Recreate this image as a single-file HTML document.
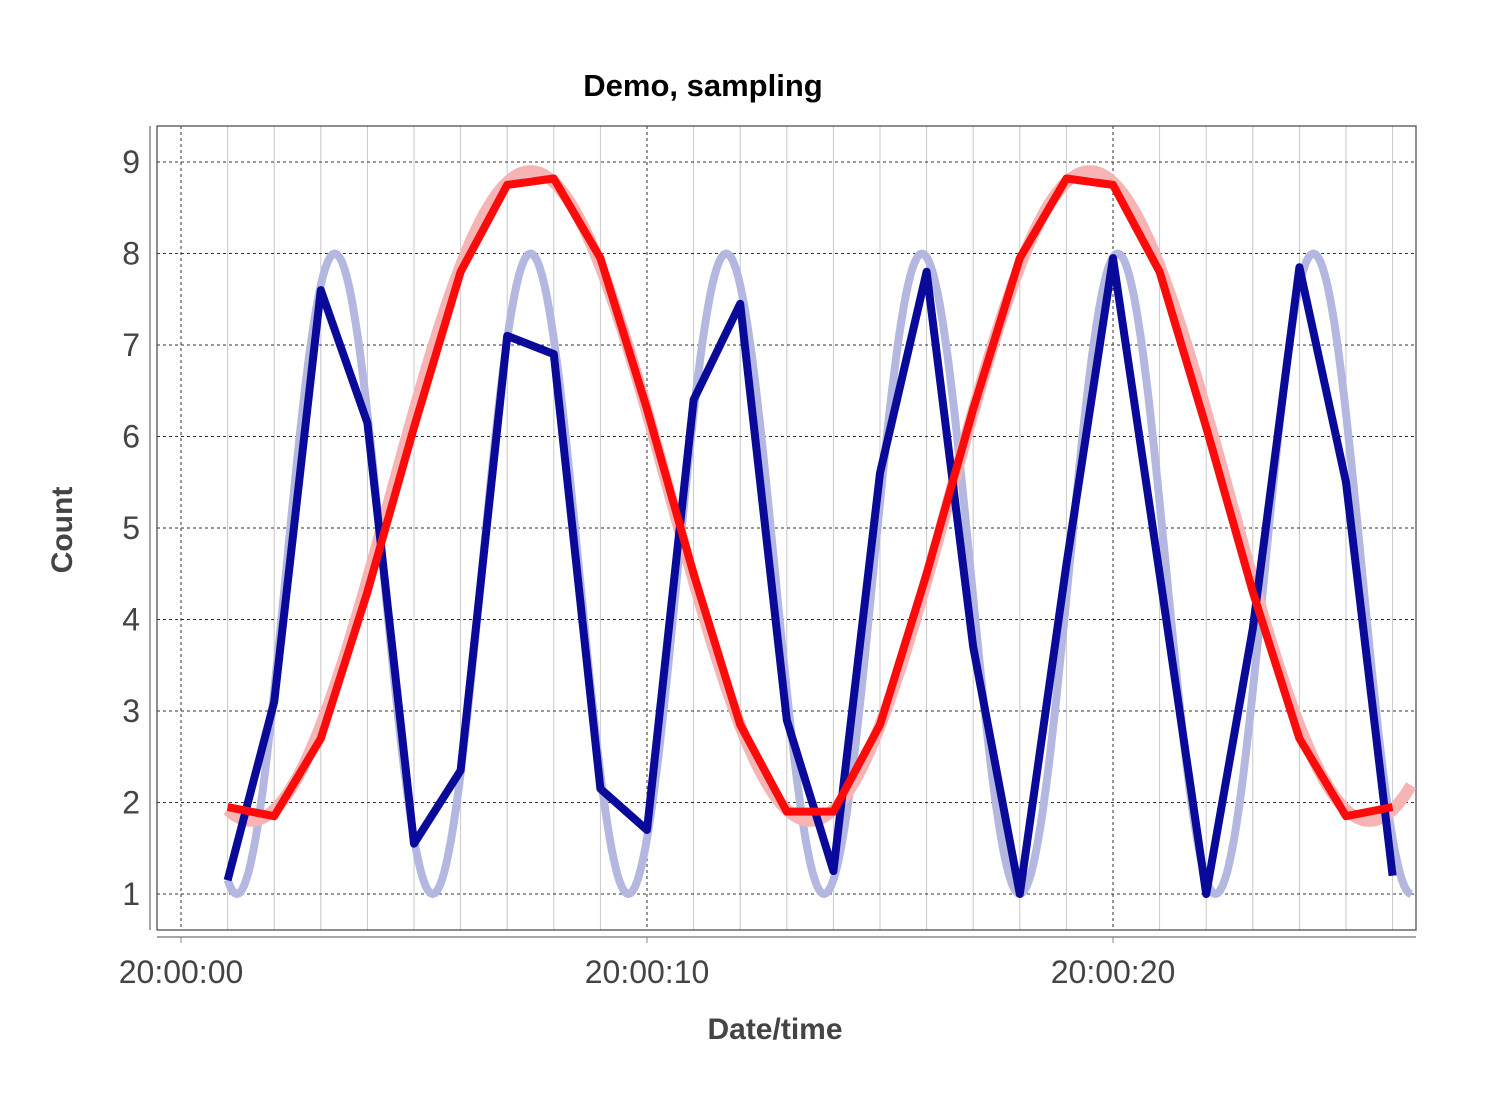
<!DOCTYPE html>
<html><head><meta charset="utf-8"><style>
html,body{margin:0;padding:0;background:#fff;}
svg{display:block;font-family:"Liberation Sans",sans-serif;}
</style></head><body>
<svg id="s" width="1500" height="1104" viewBox="0 0 1500 1104" xmlns="http://www.w3.org/2000/svg">
<text x="703" y="96" text-anchor="middle" font-size="31" font-weight="bold" fill="#000">Demo, sampling</text>
<text x="775" y="1039" text-anchor="middle" font-size="30" font-weight="bold" fill="#444">Date/time</text>
<text transform="translate(72,530) rotate(-90)" text-anchor="middle" font-size="30" font-weight="bold" fill="#444">Count</text>
<g id="grid"></g>
<rect x="157" y="126" width="1259" height="804" fill="none" stroke="#444" stroke-width="1.2"/>
<line x1="157" y1="937" x2="1416" y2="937" stroke="#888" stroke-width="1.5"/>
<line x1="150" y1="126" x2="150" y2="930" stroke="#888" stroke-width="1.5"/>
<g id="labels" font-size="32" fill="#444"></g>
<g id="series"></g>
</svg>
<script>
var X=function(t){return 181+46.6*t;}, Y=function(v){return 894-(v-1)*91.5;};
var g=document.getElementById('grid'),L=document.getElementById('labels'),S=document.getElementById('series');
var h='';
for(var t=1;t<=26;t++){ if(t%10) h+='<line x1="'+X(t)+'" y1="126" x2="'+X(t)+'" y2="930" stroke="#c8c8c8" stroke-width="1"/>'; }
[0,10,20].forEach(function(t){h+='<line x1="'+X(t)+'" y1="126" x2="'+X(t)+'" y2="930" stroke="#333" stroke-width="1" stroke-dasharray="3,3"/>';});
for(var v=1;v<=9;v++){h+='<line x1="157" y1="'+Y(v)+'" x2="1416" y2="'+Y(v)+'" stroke="#333" stroke-width="1" stroke-dasharray="3,3"/>';}
g.innerHTML=h;
var l='';
for(var v=1;v<=9;v++){l+='<text x="140" y="'+(Y(v)+11)+'" text-anchor="end">'+v+'</text>';}
[['20:00:00',0],['20:00:10',10],['20:00:20',20]].forEach(function(a){l+='<text x="'+X(a[1])+'" y="983" text-anchor="middle">'+a[0]+'</text><line x1="'+X(a[1])+'" y1="937" x2="'+X(a[1])+'" y2="943" stroke="#888"/>';});
L.innerHTML=l;
function curve(f){var p=[];for(var t=1;t<=26.45;t+=0.05)p.push(X(t).toFixed(1)+','+Y(f(t)).toFixed(1));return p.join(' ');}
var bs=function(t){return 4.5-3.5*Math.cos(2*Math.PI*(t-1.2)/4.2);};
var rs=function(t){return 5.35+3.55*Math.cos(2*Math.PI*(t-7.5)/12);};
var blue=[1.15,3.1,7.6,6.15,1.55,2.35,7.1,6.9,2.15,1.7,6.4,7.45,2.9,1.25,5.6,7.8,3.7,1.0,4.6,7.95,4.5,1.0,3.9,7.85,5.5,1.2];
var red=[1.95,1.85,2.7,4.3,6.1,7.8,8.75,8.82,7.95,6.3,4.5,2.85,1.9,1.9,2.85,4.5,6.3,7.95,8.82,8.75,7.8,6.1,4.3,2.7,1.85,1.95];
function pts(a){return a.map(function(v,i){return X(i+1)+','+Y(v).toFixed(1);}).join(' ');}
S.innerHTML='<polyline points="'+curve(bs)+'" fill="none" stroke="#b4b8e0" stroke-width="8" stroke-linejoin="round"/>'+
'<polyline points="'+curve(rs)+'" fill="none" stroke="#f6b4b4" stroke-width="12" stroke-linejoin="round"/>'+
'<polyline points="'+pts(blue)+'" fill="none" stroke="#0a0a9a" stroke-width="8" stroke-linejoin="round"/>'+
'<polyline points="'+pts(red)+'" fill="none" stroke="#ff0a0a" stroke-width="8" stroke-linejoin="round"/>';
</script>
</body></html>
